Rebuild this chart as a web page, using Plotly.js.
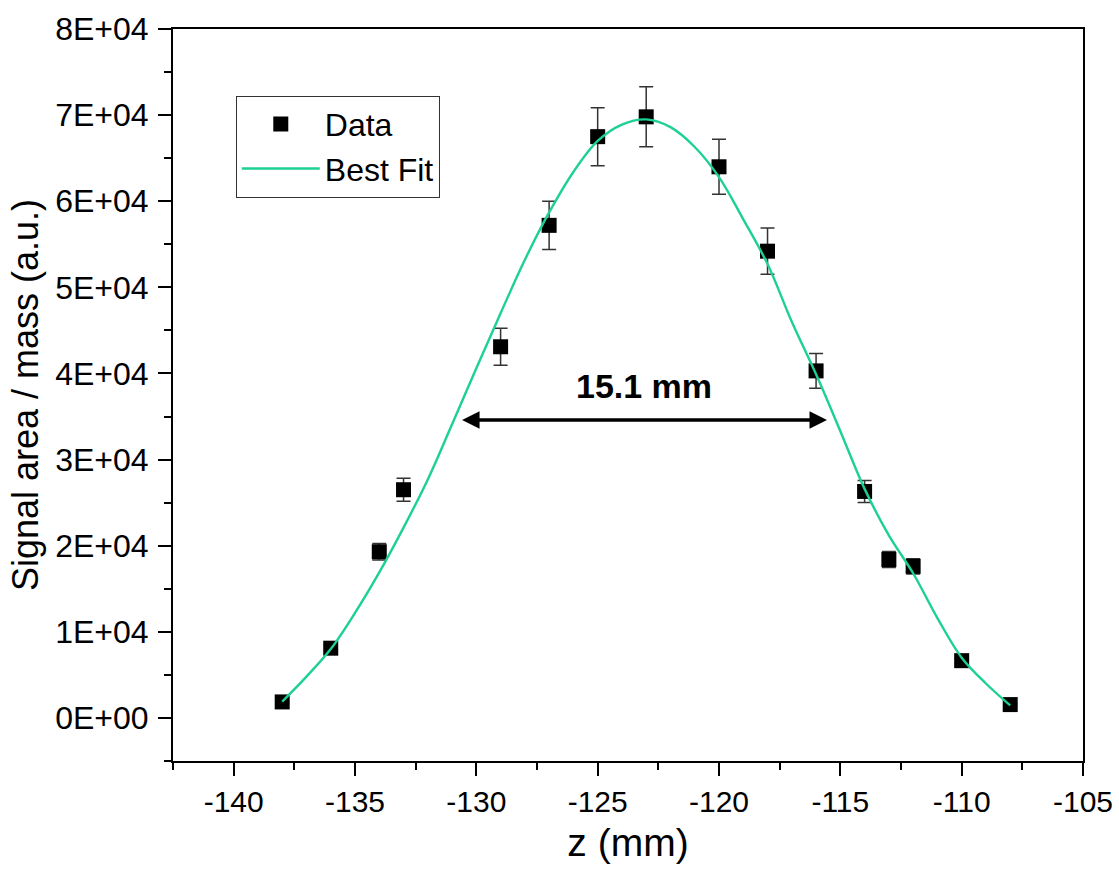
<!DOCTYPE html>
<html>
<head>
<meta charset="utf-8">
<script src="https://cdn.plot.ly/plotly-3.0.1.min.js"></script>
<style>
  html, body { margin: 0; padding: 0; background: #ffffff; }
  #chart { width: 1119px; height: 875px; }
</style>
</head>
<body>
<div id="chart"></div>
<script>
// Measured data points
const zData = [-138, -136, -134, -133, -129, -127, -125, -123, -120, -118, -116, -114, -113, -112, -110, -108];
const yData = [1860, 8100, 19300, 26500, 43100, 57200, 67500, 69800, 64000, 54200, 40300, 26300, 18400, 17600, 6650, 1550];
const yErr  = [90, 400, 970, 1340, 2150, 2800, 3370, 3480, 3200, 2680, 2030, 1280, 920, 880, 330, 80];

// Best fit curve
const zFit = [-138, -137, -136, -135, -134, -133, -132, -131, -130, -129, -128, -127, -126, -125, -124, -123,
              -122, -121, -120, -119, -118, -117, -116, -115, -114, -113, -112, -111, -110, -109, -108];
const yFit = [1900, 4800, 8000, 12200, 16900, 22100, 27700, 34100, 40600, 47000, 53200, 58700, 63400, 67000, 68900, 69500,
              68600, 66300, 62800, 57900, 52700, 46000, 39900, 33300, 26600, 21200, 16800, 11600, 7000, 4000, 1450];

// Tick labels
const xTickVals = [-140, -135, -130, -125, -120, -115, -110, -105];
const xTickText = ['-140', '-135', '-130', '-125', '-120', '-115', '-110', '-105'];
const yTickVals = [0, 10000, 20000, 30000, 40000, 50000, 60000, 70000, 80000];
const yTickText = ['0E+00', '1E+04', '2E+04', '3E+04', '4E+04', '5E+04', '6E+04', '7E+04', '8E+04'];

// FWHM annotation
const fwhmLeft = -130.65, fwhmRight = -115.55, fwhmLevel = 34600;
const fwhmLabel = '15.1 mm';

const FONT = 'Liberation Sans, Arial, Helvetica, sans-serif';
const fitColor = '#1dd192';

const traces = [
  {
    x: zData, y: yData, name: 'Data', type: 'scatter', mode: 'markers',
    marker: { symbol: 'square', size: 15, color: '#000000' },
    error_y: { type: 'data', array: yErr, visible: true, color: '#333333', thickness: 1.5, width: 7 }
  },
  {
    x: zFit, y: yFit, name: 'Best Fit', type: 'scatter', mode: 'lines',
    line: { color: fitColor, width: 2.4, shape: 'spline', smoothing: 1 }
  }
];

const layout = {
  width: 1119, height: 875,
  paper_bgcolor: '#ffffff', plot_bgcolor: '#ffffff',
  margin: { l: 173, r: 36, t: 29, b: 114 },
  font: { family: FONT, color: '#000000', size: 30 },
  showlegend: true,
  legend: {
    x: 0.069, y: 0.909, xanchor: 'left', yanchor: 'top',
    bgcolor: '#ffffff', bordercolor: '#333333', borderwidth: 1,
    font: { family: FONT, size: 32, color: '#000000' },
    itemwidth: 78, tracegroupgap: 0
  },
  xaxis: {
    range: [-142.5, -105],
    tickmode: 'array', tickvals: xTickVals, ticktext: xTickText,
    ticks: 'outside', ticklen: 13, tickwidth: 2, tickcolor: '#000000',
    minor: { ticks: 'outside', ticklen: 7, tickwidth: 2, tickcolor: '#000000', dtick: 2.5, tick0: -140 },
    showline: true, linewidth: 2, linecolor: '#000000', mirror: true,
    showgrid: false, zeroline: false,
    tickfont: { family: FONT, size: 30, color: '#000000' },
    title: { text: 'z (mm)', font: { family: FONT, size: 39, color: '#000000' }, standoff: 12 }
  },
  yaxis: {
    range: [-5000, 80000],
    tickmode: 'array', tickvals: yTickVals, ticktext: yTickText,
    ticks: 'outside', ticklen: 13, tickwidth: 2, tickcolor: '#000000',
    minor: { ticks: 'outside', ticklen: 7, tickwidth: 2, tickcolor: '#000000', dtick: 5000, tick0: 0 },
    showline: true, linewidth: 2, linecolor: '#000000', mirror: true,
    showgrid: false, zeroline: false,
    ticklabelstandoff: 3,
    tickfont: { family: FONT, size: 32, color: '#000000' },
    title: { text: 'Signal area / mass (a.u.)', font: { family: FONT, size: 36, color: '#000000' }, standoff: 6 }
  },
  annotations: [
    {
      x: fwhmRight, y: fwhmLevel, ax: fwhmLeft, ay: fwhmLevel,
      xref: 'x', yref: 'y', axref: 'x', ayref: 'y',
      text: '', showarrow: true, arrowside: 'end+start',
      arrowhead: 2, arrowsize: 1, arrowwidth: 3.5, arrowcolor: '#000000',
      standoff: 0, startstandoff: 0
    },
    {
      x: (fwhmLeft + fwhmRight) / 2, y: fwhmLevel, xref: 'x', yref: 'y',
      yshift: 34, showarrow: false,
      text: '<b>' + fwhmLabel + '</b>',
      font: { family: FONT, size: 34, color: '#000000' }
    }
  ]
};

Plotly.newPlot('chart', traces, layout, { displayModeBar: false, staticPlot: true });
</script>
</body>
</html>
